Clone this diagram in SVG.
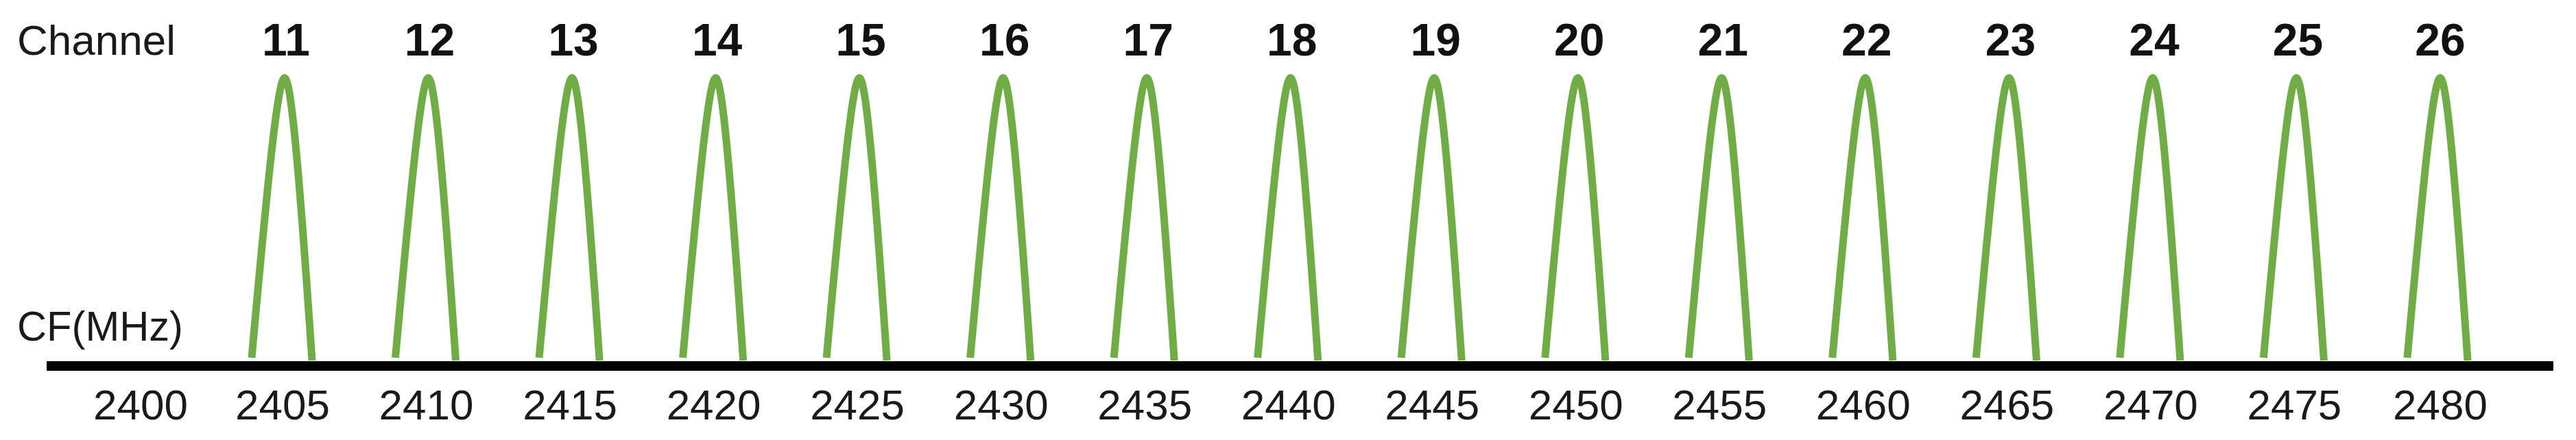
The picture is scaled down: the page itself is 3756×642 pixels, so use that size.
<svg xmlns="http://www.w3.org/2000/svg" xmlns:xlink="http://www.w3.org/1999/xlink" width="3756" height="642" viewBox="0 0 3756 642">
<style>
.lbl{font-family:"Liberation Sans",Arial,sans-serif;font-size:62px;fill:#1a1a1a}
.ch{font-family:"Liberation Sans",Arial,sans-serif;font-size:66px;font-weight:bold;fill:#111;text-anchor:middle}
.cf{font-family:"Liberation Sans",Arial,sans-serif;font-size:62px;fill:#1a1a1a;text-anchor:middle}
.pk{fill:none;stroke:#70AD47;stroke-width:11;stroke-linecap:butt;stroke-linejoin:round}
</style>
<defs>
<path id="peak" class="pk" d="M -48 408.5 C -25.5 158.5, -10 0, 0 0 C 10 0, 23 161.5, 40 412.5"/>
</defs>
<rect width="3756" height="642" fill="#ffffff"/>
<g id="titles">
<text class="lbl" x="25" y="80">Channel</text>
<text class="lbl" x="25" y="497" textLength="242" lengthAdjust="spacingAndGlyphs">CF(MHz)</text>
<text class="cf" x="205" y="612">2400</text>
</g>
<g id="ch11"><use href="#peak" xlink:href="#peak" x="415" y="113.5"/><text class="ch" x="417" y="81">11</text><text class="cf" x="412" y="612">2405</text></g>
<g id="ch12"><use href="#peak" xlink:href="#peak" x="624.5" y="113.5"/><text class="ch" x="626.5" y="81">12</text><text class="cf" x="621.5" y="612">2410</text></g>
<g id="ch13"><use href="#peak" xlink:href="#peak" x="834.1" y="113.5"/><text class="ch" x="836.1" y="81">13</text><text class="cf" x="831.1" y="612">2415</text></g>
<g id="ch14"><use href="#peak" xlink:href="#peak" x="1043.6" y="113.5"/><text class="ch" x="1045.6" y="81">14</text><text class="cf" x="1040.6" y="612">2420</text></g>
<g id="ch15"><use href="#peak" xlink:href="#peak" x="1253.1" y="113.5"/><text class="ch" x="1255.1" y="81">15</text><text class="cf" x="1250.1" y="612">2425</text></g>
<g id="ch16"><use href="#peak" xlink:href="#peak" x="1462.7" y="113.5"/><text class="ch" x="1464.7" y="81">16</text><text class="cf" x="1459.7" y="612">2430</text></g>
<g id="ch17"><use href="#peak" xlink:href="#peak" x="1672.2" y="113.5"/><text class="ch" x="1674.2" y="81">17</text><text class="cf" x="1669.2" y="612">2435</text></g>
<g id="ch18"><use href="#peak" xlink:href="#peak" x="1881.7" y="113.5"/><text class="ch" x="1883.7" y="81">18</text><text class="cf" x="1878.7" y="612">2440</text></g>
<g id="ch19"><use href="#peak" xlink:href="#peak" x="2091.2" y="113.5"/><text class="ch" x="2093.2" y="81">19</text><text class="cf" x="2088.2" y="612">2445</text></g>
<g id="ch20"><use href="#peak" xlink:href="#peak" x="2300.8" y="113.5"/><text class="ch" x="2302.8" y="81">20</text><text class="cf" x="2297.8" y="612">2450</text></g>
<g id="ch21"><use href="#peak" xlink:href="#peak" x="2510.3" y="113.5"/><text class="ch" x="2512.3" y="81">21</text><text class="cf" x="2507.3" y="612">2455</text></g>
<g id="ch22"><use href="#peak" xlink:href="#peak" x="2719.8" y="113.5"/><text class="ch" x="2721.8" y="81">22</text><text class="cf" x="2716.8" y="612">2460</text></g>
<g id="ch23"><use href="#peak" xlink:href="#peak" x="2929.4" y="113.5"/><text class="ch" x="2931.4" y="81">23</text><text class="cf" x="2926.4" y="612">2465</text></g>
<g id="ch24"><use href="#peak" xlink:href="#peak" x="3138.9" y="113.5"/><text class="ch" x="3140.9" y="81">24</text><text class="cf" x="3135.9" y="612">2470</text></g>
<g id="ch25"><use href="#peak" xlink:href="#peak" x="3348.4" y="113.5"/><text class="ch" x="3350.4" y="81">25</text><text class="cf" x="3345.4" y="612">2475</text></g>
<g id="ch26"><use href="#peak" xlink:href="#peak" x="3558" y="113.5"/><text class="ch" x="3558" y="81">26</text><text class="cf" x="3558" y="612">2480</text></g>
<g id="connectors">
<rect id="axis" x="68" y="527" width="3655" height="14" fill="#000"/>
</g>
</svg>
